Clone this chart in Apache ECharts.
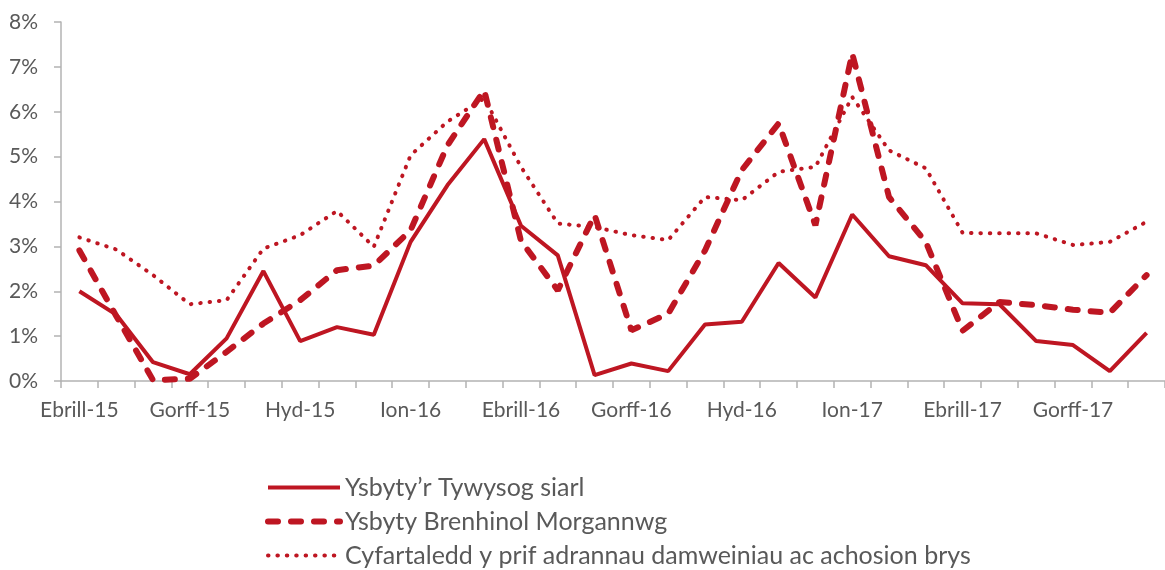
<!DOCTYPE html>
<html>
<head>
<meta charset="utf-8">
<script src="https://cdn.jsdelivr.net/npm/echarts@6/dist/echarts.min.js"></script>
<style>
  html, body { margin: 0; padding: 0; background: #fff; }
  #chart { width: 1165px; height: 570px; }
</style>
</head>
<body>
<div id="chart"></div>
<script>
    var months = ['Ebrill-15', 'Mai-15', 'Meh-15', 'Gorff-15', 'Awst-15', 'Medi-15',
        'Hyd-15', 'Tach-15', 'Rhag-15', 'Ion-16', 'Chwef-16', 'Maw-16',
        'Ebrill-16', 'Mai-16', 'Meh-16', 'Gorff-16', 'Awst-16', 'Medi-16',
        'Hyd-16', 'Tach-16', 'Rhag-16', 'Ion-17', 'Chwef-17', 'Maw-17',
        'Ebrill-17', 'Mai-17', 'Meh-17', 'Gorff-17', 'Awst-17', 'Medi-17'];

    var seriesNames = ['Ysbyty\u2019r Tywysog siarl', 'Ysbyty Brenhinol Morgannwg',
        'Cyfartaledd y prif adrannau damweiniau ac achosion brys'];

    // percent values
    var tywysogSiarl = [2.0, 1.48, 0.42, 0.15, 0.95, 2.45, 0.89, 1.2, 1.03, 3.1,
        4.36, 5.39, 3.46, 2.8, 0.13, 0.39, 0.22, 1.26, 1.32, 2.63,
        1.86, 3.71, 2.78, 2.58, 1.73, 1.71, 0.89, 0.8, 0.22, 1.07];
    var brenhinolMorgannwg = [2.91, 1.45, 0.02, 0.05, 0.65, 1.28, 1.8, 2.47, 2.57, 3.36,
        5.25, 6.48, 3.12, 2.02, 3.7, 1.13, 1.5, 2.91, 4.7, 5.74,
        3.47, 7.3, 4.1, 3.1, 1.12, 1.76, 1.69, 1.59, 1.52, 2.36];
    var cyfartaledd = [3.2, 2.93, 2.36, 1.71, 1.8, 2.95, 3.25, 3.79, 2.99, 5.03,
        5.78, 6.3, 4.77, 3.51, 3.43, 3.25, 3.14, 4.1, 4.03, 4.66,
        4.77, 6.33, 5.14, 4.74, 3.3, 3.29, 3.29, 3.03, 3.1, 3.55];

    var red = '#BE1622';
    var grey = '#B3B3B3';
    var textGrey = '#595959';
    var font = 'Lato';

    var chart = echarts.init(document.getElementById('chart'));

    // hide the round marker ECharts puts in the middle of line legend icons
    var noMarker = { opacity: 0 };

    var option = {
        animation: false,
        backgroundColor: '#fff',
        textStyle: { fontFamily: font },
        grid: { left: 61, right: -6, top: 22, bottom: 189 },
        legend: {
            orient: 'vertical',
            left: 265,
            top: 475,
            padding: 0,
            height: 100,
            itemWidth: 72,
            itemHeight: 14,
            itemGap: 9,
            textStyle: { fontSize: 25, color: textGrey, fontFamily: font },
            data: [
                { name: seriesNames[0], lineStyle: { width: 4 }, itemStyle: noMarker },
                { name: seriesNames[1], lineStyle: { width: 6 }, itemStyle: noMarker },
                { name: seriesNames[2], lineStyle: { width: 4 }, itemStyle: noMarker }
            ]
        },
        xAxis: {
            type: 'category',
            data: months,
            boundaryGap: true,
            axisLine: { lineStyle: { color: grey, width: 1.5 } },
            axisTick: { show: true, interval: 0, length: 7, lineStyle: { color: grey, width: 1.5 } },
            axisLabel: { interval: 2, color: textGrey, fontSize: 21, margin: 19 }
        },
        yAxis: {
            type: 'value',
            min: 0,
            max: 8,
            interval: 1,
            axisLine: { show: true, lineStyle: { color: grey, width: 1.5 } },
            axisTick: { show: true, length: 7, lineStyle: { color: grey, width: 1.5 } },
            splitLine: { show: false },
            axisLabel: { formatter: '{value}%', color: textGrey, fontSize: 21, margin: 23 }
        },
        series: [
            {
                name: seriesNames[2],
                type: 'line',
                data: cyfartaledd,
                symbol: 'none',
                itemStyle: { color: red },
                lineStyle: { color: red, width: 4, type: [0.5, 8.9], cap: 'round' }
            },
            {
                name: seriesNames[1],
                type: 'line',
                data: brenhinolMorgannwg,
                symbol: 'none',
                itemStyle: { color: red },
                lineStyle: { color: red, width: 6, type: [10, 13], cap: 'round' }
            },
            {
                name: seriesNames[0],
                type: 'line',
                data: tywysogSiarl,
                symbol: 'none',
                itemStyle: { color: red },
                lineStyle: { color: red, width: 4 }
            }
        ]
    };

    chart.setOption(option);
</script>
</body>
</html>
